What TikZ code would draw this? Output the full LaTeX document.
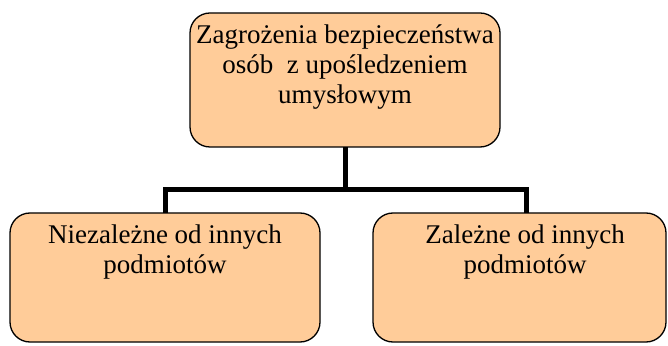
\documentclass[tikz,border=0pt]{standalone}
\usepackage{fontspec}
\setmainfont{Liberation Serif}
\definecolor{peach}{HTML}{FFCC99}
\begin{document}
\begin{tikzpicture}[x=1pt,y=1pt,
  box/.style={draw=black,line width=1.3pt,fill=peach,rounded corners=20pt},
  lbl/.style={anchor=north,align=center,inner sep=0pt,font=\fontsize{27}{30}\selectfont},
  conn/.style={line width=5pt}]
\useasboundingbox (0,0) rectangle (668,345);
\draw[box] (190,332) rectangle (500,198);
\coordinate (topc) at (345,198);
\node[lbl] (t) at (345,320) {Zagrożenia bezpieczeństwa\\osób\ \ z upośledzeniem\\umysłowym};
\draw[box] (10,132) rectangle (320,3);
\node[lbl] (l) at (165,120) {Niezależne od innych\\podmiotów};
\draw[box] (373,132) rectangle (666,3);
\node[lbl] (r) at (525,120) {Zależne od innych\\podmiotów};
\coordinate (lc) at (165,132);
\coordinate (rc) at (526,132);
\coordinate (bar) at (345,155);
\draw[conn] (topc) -- (bar);
\draw[conn,line join=miter] (lc) |- (bar) -| (rc);
\end{tikzpicture}
\end{document}
